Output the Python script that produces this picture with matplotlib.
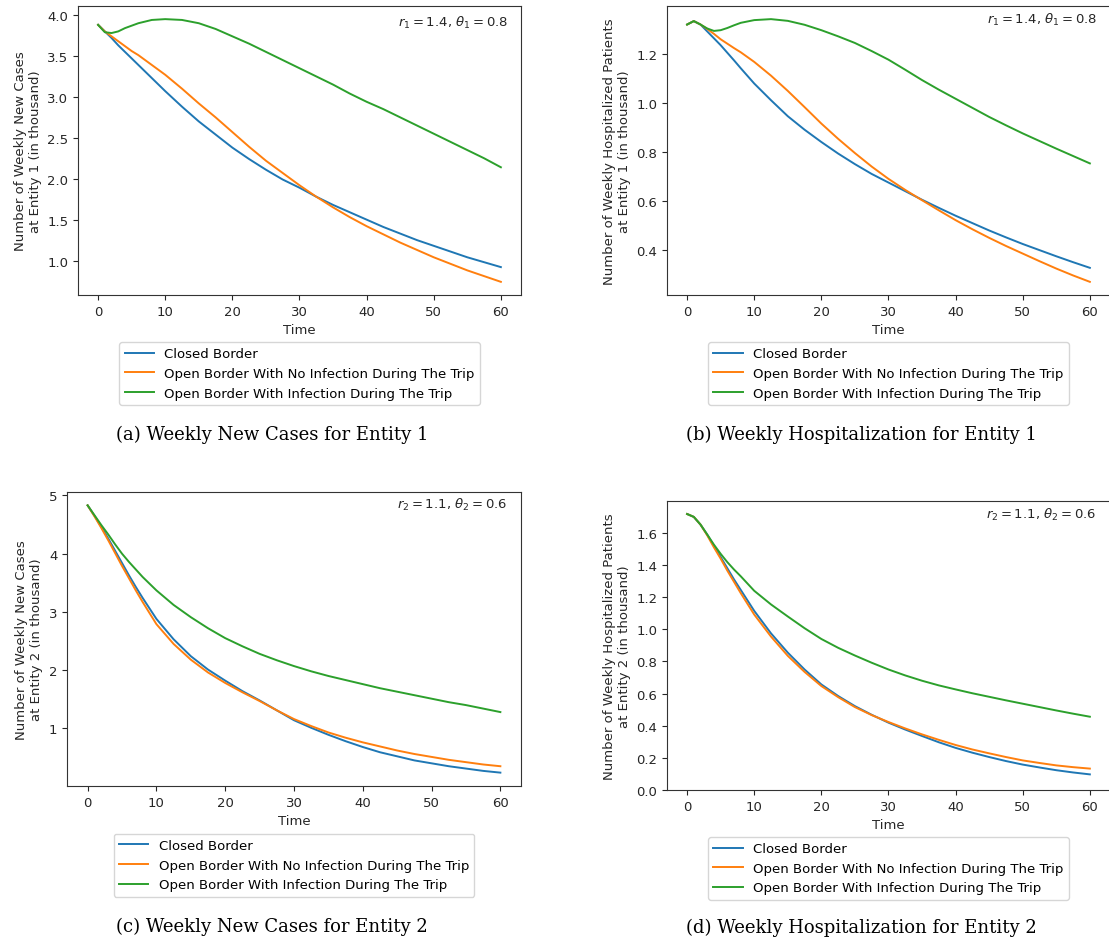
import matplotlib
matplotlib.use('Agg')
import matplotlib.pyplot as plt

# time points (weeks)
time = [0, 1, 2, 3, 4, 5, 6, 7, 8, 10, 12.5, 15, 17.5, 20, 22.5, 25, 27.5, 30,
        32.5, 35, 37.5, 40, 42.5, 45, 47.5, 50, 52.5, 55, 57.5, 60]

series_names = [
    'Closed Border',
    'Open Border With No Infection During The Trip',
    'Open Border With Infection During The Trip',
]

# (a) weekly new cases, entity 1
cases1_closed = [3.88, 3.80, 3.72, 3.63, 3.55, 3.47, 3.39, 3.31, 3.23, 3.07,
                 2.88, 2.70, 2.54, 2.38, 2.24, 2.11, 1.99, 1.89, 1.78, 1.68,
                 1.59, 1.50, 1.41, 1.33, 1.25, 1.18, 1.11, 1.04, 0.98, 0.92]
cases1_open_no = [3.88, 3.80, 3.74, 3.68, 3.62, 3.56, 3.51, 3.45, 3.39, 3.27,
                  3.10, 2.92, 2.75, 2.57, 2.39, 2.22, 2.07, 1.92, 1.78, 1.65,
                  1.53, 1.42, 1.32, 1.22, 1.13, 1.04, 0.96, 0.88, 0.81, 0.74]
cases1_open_inf = [3.88, 3.79, 3.78, 3.80, 3.84, 3.87, 3.90, 3.92, 3.94, 3.95,
                   3.94, 3.90, 3.83, 3.74, 3.65, 3.55, 3.45, 3.35, 3.25, 3.15,
                   3.04, 2.94, 2.85, 2.75, 2.65, 2.55, 2.45, 2.35, 2.25, 2.14]

# (b) weekly hospitalized, entity 1
hosp1_closed = [1.318, 1.332, 1.318, 1.290, 1.262, 1.234, 1.203, 1.172, 1.140, 1.078,
                1.010, 0.945, 0.890, 0.840, 0.793, 0.750, 0.710, 0.675, 0.640, 0.605,
                0.572, 0.540, 0.510, 0.480, 0.452, 0.425, 0.400, 0.375, 0.351, 0.328]
hosp1_open_no = [1.318, 1.332, 1.318, 1.300, 1.280, 1.258, 1.240, 1.222, 1.205, 1.166,
                 1.110, 1.048, 0.982, 0.915, 0.853, 0.795, 0.740, 0.690, 0.645, 0.603,
                 0.562, 0.522, 0.485, 0.450, 0.417, 0.386, 0.355, 0.325, 0.297, 0.271]
hosp1_open_inf = [1.318, 1.332, 1.318, 1.302, 1.292, 1.295, 1.304, 1.315, 1.325, 1.336,
                  1.340, 1.333, 1.317, 1.295, 1.270, 1.243, 1.210, 1.175, 1.134, 1.092,
                  1.053, 1.016, 0.979, 0.942, 0.908, 0.875, 0.844, 0.813, 0.783, 0.753]

# (c) weekly new cases, entity 2
cases2_closed = [4.83, 4.65, 4.46, 4.26, 4.05, 3.84, 3.63, 3.43, 3.24, 2.88,
                 2.53, 2.24, 2.01, 1.82, 1.64, 1.48, 1.31, 1.14, 1.01, 0.89,
                 0.78, 0.68, 0.59, 0.52, 0.45, 0.40, 0.35, 0.31, 0.27, 0.24]
cases2_open_no = [4.83, 4.64, 4.44, 4.23, 4.01, 3.79, 3.58, 3.37, 3.17, 2.79,
                  2.45, 2.18, 1.96, 1.78, 1.62, 1.47, 1.31, 1.16, 1.04, 0.93,
                  0.84, 0.76, 0.69, 0.62, 0.56, 0.51, 0.46, 0.42, 0.38, 0.35]
cases2_open_inf = [4.83, 4.66, 4.49, 4.33, 4.16, 4.00, 3.86, 3.73, 3.60, 3.37,
                   3.12, 2.91, 2.72, 2.55, 2.41, 2.28, 2.17, 2.07, 1.98, 1.90,
                   1.83, 1.76, 1.69, 1.63, 1.57, 1.51, 1.45, 1.40, 1.34, 1.28]

# (d) weekly hospitalized, entity 2
hosp2_closed = [1.718, 1.700, 1.652, 1.590, 1.520, 1.450, 1.380, 1.310, 1.245, 1.115,
                0.975, 0.855, 0.750, 0.657, 0.585, 0.522, 0.468, 0.419, 0.376, 0.336,
                0.297, 0.262, 0.232, 0.205, 0.180, 0.158, 0.140, 0.123, 0.109, 0.097]
hosp2_open_no = [1.718, 1.700, 1.652, 1.585, 1.510, 1.440, 1.365, 1.295, 1.225, 1.092,
                 0.955, 0.835, 0.735, 0.647, 0.578, 0.516, 0.466, 0.423, 0.383, 0.346,
                 0.312, 0.280, 0.252, 0.228, 0.205, 0.184, 0.168, 0.153, 0.142, 0.133]
hosp2_open_inf = [1.718, 1.700, 1.652, 1.590, 1.527, 1.470, 1.418, 1.372, 1.330, 1.240,
                  1.155, 1.080, 1.007, 0.940, 0.885, 0.837, 0.792, 0.750, 0.713, 0.680,
                  0.651, 0.626, 0.602, 0.580, 0.558, 0.537, 0.516, 0.495, 0.475, 0.456]

colors = ['#1f77b4', '#ff7f0e', '#2ca02c']

panels = [
    dict(rect=[0.0703, 0.6868, 0.3995, 0.3058],
         data=[cases1_closed, cases1_open_no, cases1_open_inf],
         ylabel='Number of Weekly New Cases\nat Entity 1 (in thousand)',
         note=r'$r_1 = 1.4$, $\theta_1 = 0.8$', note_y=0.945,
         caption='(a) Weekly New Cases for Entity 1', cap_xy=(272, 435)),
    dict(rect=[0.6014, 0.6868, 0.3995, 0.3058],
         data=[hosp1_closed, hosp1_open_no, hosp1_open_inf],
         ylabel='Number of Weekly Hospitalized Patients\nat Entity 1 (in thousand)',
         note=r'$r_1 = 1.4$, $\theta_1 = 0.8$', note_y=0.955,
         caption='(b) Weekly Hospitalization for Entity 1', cap_xy=(861, 435)),
    dict(rect=[0.0604, 0.1672, 0.4094, 0.3111],
         data=[cases2_closed, cases2_open_no, cases2_open_inf],
         ylabel='Number of Weekly New Cases\nat Entity 2 (in thousand)',
         note=r'$r_2 = 1.1$, $\theta_2 = 0.6$', note_y=0.96,
         caption='(c) Weekly New Cases for Entity 2', cap_xy=(272, 927)),
    dict(rect=[0.6014, 0.1630, 0.3995, 0.3058],
         data=[hosp2_closed, hosp2_open_no, hosp2_open_inf],
         ylabel='Number of Weekly Hospitalized Patients\nat Entity 2 (in thousand)',
         note=r'$r_2 = 1.1$, $\theta_2 = 0.6$', note_y=0.955,
         caption='(d) Weekly Hospitalization for Entity 2', cap_xy=(861, 928)),
]

W, H = 1109, 945
fig = plt.figure(figsize=(W / 100, H / 100), dpi=100)

for i, p in enumerate(panels):
    ax = fig.add_axes(p['rect'])
    for ys, name, c in zip(p['data'], series_names, colors):
        ax.plot(time, ys, color=c, linewidth=1.4, label=name)
    if i == 3:
        ax.set_ylim(bottom=0)
    ax.set_xticks([0, 10, 20, 30, 40, 50, 60])
    ax.tick_params(labelsize=9.5, colors='#262626')
    ax.set_xlabel('Time', fontsize=9.5, color='#262626')
    ax.set_ylabel(p['ylabel'], fontsize=9.5, color='#262626')
    for s in ax.spines.values():
        s.set_color('#333333')
    ax.text(0.97, p['note_y'], p['note'], transform=ax.transAxes,
            ha='right', va='center', fontsize=9.5, color='#262626')
    ax.legend(loc='upper center', bbox_to_anchor=(0.5, -0.14), fontsize=9.5,
              handlelength=2.2)
    fig.text(p['cap_xy'][0] / W, 1 - p['cap_xy'][1] / H, p['caption'],
             ha='center', va='center', family='DejaVu Serif', fontsize=13)

plt.savefig('out.png', dpi=100)
plt.close()
